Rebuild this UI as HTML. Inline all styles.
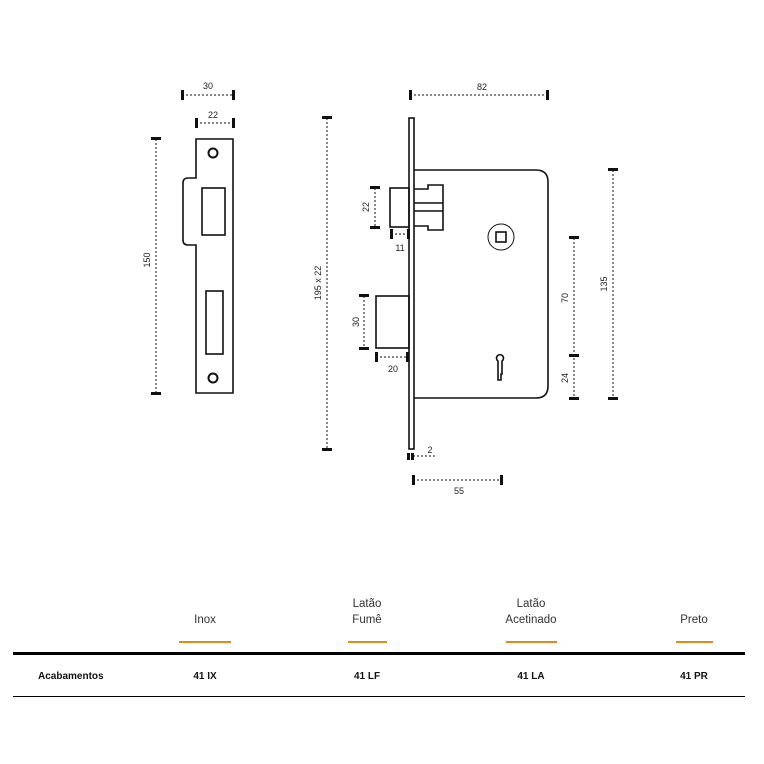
<!DOCTYPE html>
<html><head><meta charset="utf-8"><style>
body{margin:0;background:#fff;width:764px;height:764px;overflow:hidden;font-family:"Liberation Sans",sans-serif}
svg{position:absolute;left:0;top:0}
</style></head><body>
<svg width="764" height="764" viewBox="0 0 764 764" font-family="Liberation Sans, sans-serif">
<g fill="none" stroke="#111" stroke-width="1.6">
<path d="M196,139 H233 V393 H196 V245 H188 Q183,245 183,240 V183 Q183,178 188,178 H196 Z"/>
<rect x="202" y="188" width="23" height="47"/>
<rect x="206" y="291" width="17" height="63"/>
<circle cx="213" cy="153" r="4.5" stroke-width="2"/>
<circle cx="213" cy="378" r="4.5" stroke-width="2"/>
<rect x="409" y="118" width="5" height="331"/>
<path d="M414,170 H536 Q548,170 548,182 V386 Q548,398 536,398 H414"/>
<rect x="390" y="188" width="19" height="39"/>
<path d="M414,189 H428 V185 H443 V230 H428 V226 H414 M414,203 H443 M414,211 H443"/>
<rect x="376" y="296" width="33" height="52"/>
<circle cx="501" cy="237" r="13" stroke-width="1"/>
<rect x="496" y="232" width="10" height="10"/>
<path d="M498,361 A3.5,3.5 0 1 1 502,361 V374 H501 V380 H498 Z"/>
</g>
<g stroke="#111" stroke-width="1" stroke-dasharray="2,2" fill="none">
<line x1="182" y1="95" x2="233" y2="95"/>
<line x1="196" y1="123" x2="233" y2="123"/>
<line x1="156" y1="139" x2="156" y2="393"/>
<line x1="410" y1="95" x2="548" y2="95"/>
<line x1="327" y1="118" x2="327" y2="449"/>
<line x1="613" y1="170" x2="613" y2="398"/>
<line x1="574" y1="238" x2="574" y2="398"/>
<line x1="375" y1="188" x2="375" y2="227"/>
<line x1="391" y1="234" x2="409" y2="234"/>
<line x1="364" y1="296" x2="364" y2="348"/>
<line x1="376" y1="357" x2="408" y2="357"/>
<line x1="413" y1="456" x2="437" y2="456"/>
<line x1="413" y1="480" x2="502" y2="480"/>
</g>
<g fill="#111">
<rect x="181" y="90" width="3" height="10"/><rect x="232" y="90" width="3" height="10"/>
<rect x="195" y="118" width="3" height="10"/><rect x="232" y="118" width="3" height="10"/>
<rect x="151" y="137" width="10" height="3"/><rect x="151" y="392" width="10" height="3"/>
<rect x="409" y="90" width="3" height="10"/><rect x="546" y="90" width="3" height="10"/>
<rect x="322" y="116" width="10" height="3"/><rect x="322" y="448" width="10" height="3"/>
<rect x="608" y="168" width="10" height="3"/><rect x="608" y="397" width="10" height="3"/>
<rect x="569" y="236" width="10" height="3"/><rect x="569" y="354" width="10" height="3"/><rect x="569" y="397" width="10" height="3"/>
<rect x="370" y="186" width="10" height="3"/><rect x="370" y="226" width="10" height="3"/>
<rect x="390" y="229" width="3" height="10"/><rect x="407" y="229" width="3" height="10"/>
<rect x="359" y="294" width="10" height="3"/><rect x="359" y="347" width="10" height="3"/>
<rect x="375" y="352" width="3" height="10"/><rect x="406" y="352" width="3" height="10"/>
<rect x="407" y="453" width="3" height="7"/><rect x="411" y="453" width="3" height="7"/>
<rect x="412" y="475" width="3" height="10"/><rect x="500" y="475" width="3" height="10"/>
</g>
<g font-size="9" fill="#222" text-anchor="middle">
<text x="208" y="89">30</text><text x="213" y="118">22</text>
<text x="482" y="90">82</text>
<text x="400" y="251">11</text><text x="393" y="372">20</text>
<text x="430" y="453">2</text><text x="459" y="494">55</text>
<text transform="translate(150,260) rotate(-90)">150</text>
<text transform="translate(321,283) rotate(-90)">195 x 22</text>
<text transform="translate(369,207) rotate(-90)">22</text>
<text transform="translate(359,322) rotate(-90)">30</text>
<text transform="translate(568,298) rotate(-90)">70</text>
<text transform="translate(568,378) rotate(-90)">24</text>
<text transform="translate(607,284) rotate(-90)">135</text>
</g>
<g font-size="11.5" fill="#333" text-anchor="middle">
<text x="205" y="623">Inox</text>
<text x="367" y="607">Latão</text><text x="367" y="623">Fumê</text>
<text x="531" y="607">Latão</text><text x="531" y="623">Acetinado</text>
<text x="694" y="623">Preto</text>
</g>
<g fill="#e08a1e">
<rect x="179" y="641" width="52" height="2"/><rect x="348" y="641" width="39" height="2"/>
<rect x="506" y="641" width="51" height="2"/><rect x="676" y="641" width="37" height="2"/>
</g>
<rect x="13" y="652" width="732" height="3" fill="#000"/>
<rect x="13" y="696" width="732" height="1" fill="#000"/>
<g font-size="10" font-weight="bold" fill="#111">
<text x="38" y="679">Acabamentos</text>
<g text-anchor="middle"><text x="205" y="679">41 IX</text><text x="367" y="679">41 LF</text><text x="531" y="679">41 LA</text><text x="694" y="679">41 PR</text></g>
</g>
</svg>
</body></html>
